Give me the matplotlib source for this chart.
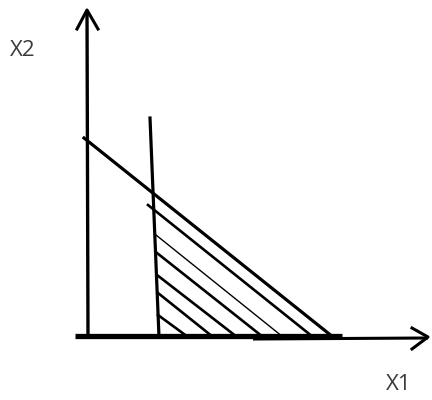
import numpy as np
import matplotlib.pyplot as plt

# Boceto de region factible (coordenadas en unidades del dibujo, origen en el cruce de ejes)

# Ejes
eje_x1_grueso = ([-13, 254], [1, 1])
eje_x1_fino = ([165, 340], [-2, -1])
flecha_x1 = ([324, 340, 324], [9, 0, -12])
eje_x2 = ([0, -1], [0, 327])
flecha_x2 = ([-11, -1, 10], [308, 327, 308])

# Recta de restriccion y recta vertical x1 = c
restriccion_x = [-4, 245]
restriccion_y = [199, 0]
vertical_x = [62, 71]
vertical_y = [219, 0]

# Rayado de la region (inicio sobre la vertical, fin sobre el eje x1)
rayado_x0 = [60, 68, 69, 69, 70, 70]
rayado_y0 = [132, 102, 84, 62, 44, 22]
rayado_xf = [225, 195, 175, 149, 125, 100]
grosor_rayado = [1.9, 1.0, 1.9, 1.9, 1.9, 1.9]

etiquetas = ["X1", "X2"]
pos_etiquetas = [(311, -48), (-65, 286)]

fig = plt.figure(figsize=(4.32, 4.0), dpi=100)
ax = fig.add_axes([0, 0, 1, 1])

negro = "black"

# ejes con sus flechas
ax.plot(*eje_x1_grueso, color=negro, linewidth=3.8, solid_capstyle='butt')
ax.plot(*eje_x1_fino, color=negro, linewidth=2.2, solid_capstyle='butt')
ax.plot(*flecha_x1, color=negro, linewidth=2.2)
ax.plot(*eje_x2, color=negro, linewidth=2.4, solid_capstyle='butt')
ax.plot(*flecha_x2, color=negro, linewidth=2.2)

# restricciones
ax.plot(restriccion_x, restriccion_y, color=negro, linewidth=2.3)
ax.plot(vertical_x, vertical_y, color=negro, linewidth=2.3)

# rayado
for i in range(len(rayado_x0)):
    ax.plot([rayado_x0[i], rayado_xf[i]], [rayado_y0[i], 0],
            color=negro, linewidth=grosor_rayado[i])

for txt, (px, py) in zip(etiquetas, pos_etiquetas):
    ax.text(px, py, txt, fontsize=16, family="Open Sans", color="#3a3a3a",
            ha="center", va="center")

ax.set_xlim(-88, 344)
ax.set_ylim(-63, 337)
ax.axis("off")

fig.savefig("out.png", dpi=100)
